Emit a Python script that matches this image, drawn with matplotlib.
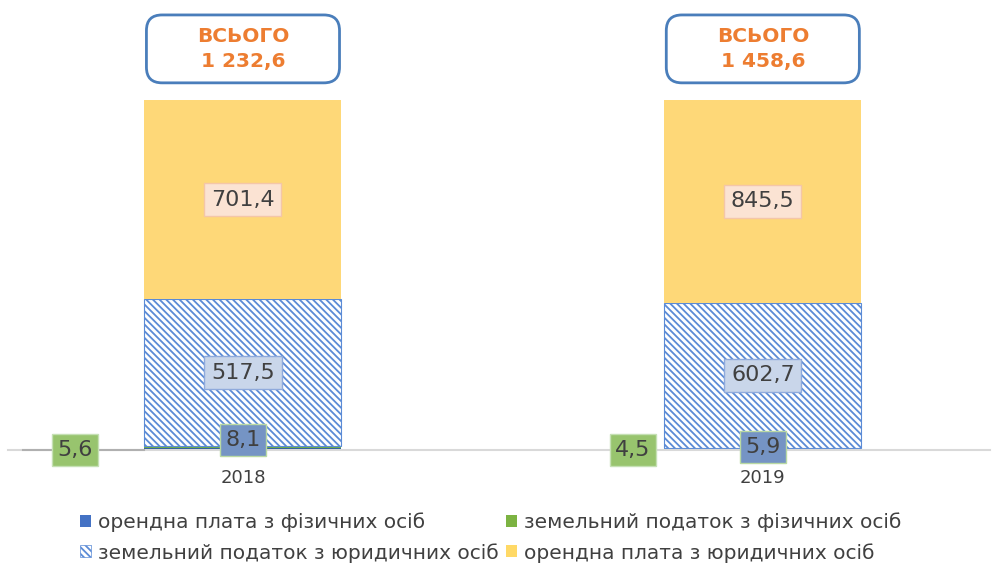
import matplotlib.pyplot as plt
from matplotlib.patches import FancyBboxPatch, Patch
import numpy as np

plt.rcParams['font.family'] = ['DejaVu Sans']
plt.rcParams['hatch.linewidth'] = 1.3

years = ['2018', '2019']
orenda_fiz = [8.1, 5.9]
zem_fiz = [5.6, 4.5]
zem_yur = [517.5, 602.7]
orenda_yur = [701.4, 845.5]
totals = [1232.6, 1458.6]

series = [orenda_fiz, zem_fiz, zem_yur, orenda_yur]
names = ['орендна плата з фізичних осіб', 'земельний податок з фізичних осіб',
         'земельний податок з юридичних осіб', 'орендна плата з юридичних осіб']

def fmt(v):
    s = f'{v:,.1f}'.replace(',', ' ').replace('.', ',')
    return s

fig = plt.figure(figsize=(9.95, 5.67), dpi=100)
ax = fig.add_axes([8 / 995, 117 / 567, 982 / 995, 450 / 567])

x = np.arange(len(years))
w = 0.379
data = np.array(series)
pct = data / data.sum(axis=0) * 100

HATCH = '\\\\\\\\\\'
bottom = np.zeros(len(years))
styles = [dict(color='#2e5f9e'),
          dict(color='#70ad47'),
          dict(facecolor='white', edgecolor='#5b8bd6', hatch=HATCH, linewidth=0.8),
          dict(color='#fed878')]
for p, st in zip(pct, styles):
    ax.bar(x, p, w, bottom=bottom, **st)
    bottom += p

ax.set_xlim(-0.452, 1.437)
ax.set_ylim(0, 128.57)
ax.set_yticks([])
ax.set_xticks(x)
ax.set_xticklabels(years, fontsize=13, color='#404040')
ax.tick_params(axis='x', length=0, pad=14)
for s in ['top', 'right', 'left']:
    ax.spines[s].set_visible(False)
ax.spines['bottom'].set_color('#d9d9d9')
ax.spines['bottom'].set_linewidth(1.5)

# big segment labels
cum = np.cumsum(pct, axis=0)
for i in range(len(years)):
    mid_yur = cum[1][i] + pct[2][i] / 2
    mid_or = cum[2][i] + pct[3][i] / 2
    ax.text(x[i], mid_yur, fmt(zem_yur[i]), ha='center', va='center', fontsize=16,
            color='#404040',
            bbox=dict(boxstyle='square,pad=0.3', fc='#c9d6ea', ec='#8faadc', lw=1))
    ax.text(x[i], mid_or, fmt(orenda_yur[i]), ha='center', va='center', fontsize=16,
            color='#404040',
            bbox=dict(boxstyle='square,pad=0.3', fc='#fbe3d3', ec='#f4c6a8', lw=1))

# small segment labels
fiz_label_y = [2.86, 0.86]
zem_label_dx = [-0.323, -0.25]
for i in range(len(years)):
    ax.text(x[i], fiz_label_y[i], fmt(orenda_fiz[i]), ha='center', va='center', fontsize=16,
            color='#404040', clip_on=False,
            bbox=dict(boxstyle='square,pad=0.25', fc='#7594c4', ec='#b9d9a3', lw=1))
    ax.text(x[i] + zem_label_dx[i], 0, fmt(zem_fiz[i]), ha='center', va='center', fontsize=16,
            color='#404040', clip_on=False, zorder=5,
            bbox=dict(boxstyle='square,pad=0.25', fc='#98c46e', ec='#c5e0b4', lw=1))
ax.plot([x[0] + zem_label_dx[0] - 0.1, x[0] - w / 2], [0, 0], color='#b0b0b0', lw=1.5,
        clip_on=False, zorder=4)

# total boxes
asp = (520 / 3.5)
for i in range(len(years)):
    bw = w * 0.98
    box = FancyBboxPatch((x[i] - bw / 2, 104.9), bw, 19.4,
                         boxstyle='round,pad=0,rounding_size=0.03',
                         mutation_aspect=asp, fc='white', ec='#4a7ebb', lw=2,
                         clip_on=False)
    ax.add_patch(box)
    ax.text(x[i], 114.6, 'ВСЬОГО\n' + fmt(totals[i]), ha='center', va='center',
            fontsize=14.5, fontweight='bold', color='#ed7d31', linespacing=1.4)

handles = [Patch(facecolor='#4472c4'), Patch(facecolor='#7cb342'),
           Patch(facecolor='white', edgecolor='#5b8bd6', hatch=HATCH, lw=0.5),
           Patch(facecolor='#ffd966')]
# legend fills column-wise: reorder so rows read as in the original
order = [0, 2, 1, 3]
fig.legend([handles[k] for k in order], [names[k] for k in order],
           loc='upper left', bbox_to_anchor=(62 / 995, 1 - 494 / 567),
           ncols=2, frameon=False, fontsize=14.5, handlelength=0.55, handleheight=0.55,
           handletextpad=0.35, columnspacing=0.35, labelspacing=0.55,
           labelcolor='#404040')

fig.savefig('out.png', dpi=100)
